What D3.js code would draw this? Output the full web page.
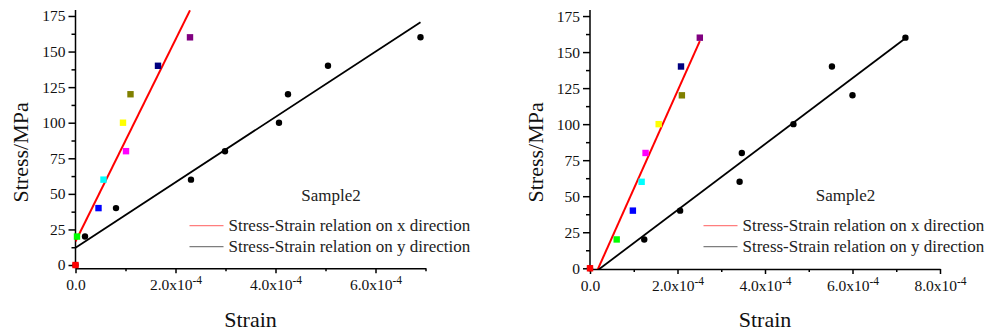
<!DOCTYPE html>
<html>
<head>
<meta charset="utf-8">
<script src="https://cdn.jsdelivr.net/npm/d3@7"></script>
<style>
  body { margin: 0; background: #fff; }
  svg { display: block; }
</style>
</head>
<body>
<svg id="chart" width="998" height="333"></svg>
<script>
// Stress levels (MPa) shared by every series
const stressLevels = [0, 20, 40, 60, 80, 100, 120, 140, 160];
// One colour per x-direction load step
const stepColors = ["#FF0000", "#00FF00", "#0000FF", "#00FFFF", "#FF00FF", "#FFFF00", "#808000", "#000080", "#800080"];

// Left panel strains
const leftStrainX = [0, 0.03e-4, 0.46e-4, 0.56e-4, 1.01e-4, 0.95e-4, 1.10e-4, 1.65e-4, 2.29e-4];
const leftStrainY = [0, 0.19e-4, 0.81e-4, 2.31e-4, 2.99e-4, 4.07e-4, 4.25e-4, 5.05e-4, 6.90e-4];
// Right panel strains
const rightStrainX = [0, 0.61e-4, 0.98e-4, 1.18e-4, 1.27e-4, 1.57e-4, 2.10e-4, 2.08e-4, 2.51e-4];
const rightStrainY = [0, 1.24e-4, 2.06e-4, 3.42e-4, 3.47e-4, 4.65e-4, 6.00e-4, 5.53e-4, 7.21e-4];

const stressTicks = [0, 25, 50, 75, 100, 125, 150, 175];
const leftStrainTicks = [0, 2e-4, 4e-4, 6e-4];
const rightStrainTicks = [0, 2e-4, 4e-4, 6e-4, 8e-4];
const sampleName = "Sample2";
const legendLabels = ["Stress-Strain relation on x direction", "Stress-Strain relation on y direction"];
const xTitle = "Strain";
const yTitle = "Stress/MPa";

const SERIF = '"Liberation Serif", "Times New Roman", serif';
const svg = d3.select("#chart").style("font-family", SERIF);

// ordinary least-squares line through (xs, ys)
function linearFit(xs, ys) {
  const n = xs.length;
  const mx = d3.mean(xs), my = d3.mean(ys);
  let sxy = 0, sxx = 0;
  for (let i = 0; i < n; i++) { sxy += (xs[i] - mx) * (ys[i] - my); sxx += (xs[i] - mx) ** 2; }
  const slope = sxy / sxx;
  return { slope, intercept: my - slope * mx, x0: d3.min(xs), x1: d3.max(xs) };
}

function strainLabel(sel) {
  sel.each(function(d) {
    const t = d3.select(this);
    t.text(null);
    if (d === 0) { t.text("0.0"); return; }
    const m = d / 1e-4;
    t.append("tspan").text(m.toFixed(1) + "x10");
    t.append("tspan").style("font-size", "11.5px").attr("dy", -6).text("-4");
  });
}

// restyle an axis group with the serif tick font
function styleAxis(a) {
  a.attr("font-family", SERIF).attr("font-size", 15.5);
  a.selectAll(".tick text")
    .style("font-family", SERIF).style("font-size", "15.5px").style("fill", "#111");
}

const panels = [
  { id: "L", sx: leftStrainX, sy: leftStrainY, xMax: 7e-4, xTicks: leftStrainTicks,
    xRange: [75.5, 425.5], yDom: [-2.3, 179.2], yRange: [268.3, 10],
    legendX: 189.5, titleX: 331 },
  { id: "R", sx: rightStrainX, sy: rightStrainY, xMax: 8e-4, xTicks: rightStrainTicks,
    xRange: [590, 940], yDom: [-0.5, 179.2], yRange: [269, 10],
    legendX: 703.5, titleX: 845.5 }
];

panels.forEach(p => {
  const x = d3.scaleLinear().domain([0, p.xMax]).range(p.xRange);
  const y = d3.scaleLinear().domain(p.yDom).range(p.yRange);
  const g = svg.append("g");
  const axisX = p.xRange[0], axisY = p.yRange[0];

  // clip region for fit lines
  g.append("clipPath").attr("id", "clip" + p.id)
    .append("rect").attr("x", p.xRange[0]).attr("y", p.yRange[1])
    .attr("width", p.xRange[1] - p.xRange[0]).attr("height", p.yRange[0] - p.yRange[1]);

  // y axis: minor then major ticks
  const minorY = d3.range(0, 180, 12.5).filter(v => v % 25 !== 0);
  g.append("g").attr("transform", `translate(${axisX},0)`)
    .call(d3.axisLeft(y).tickValues(minorY).tickSize(4).tickSizeOuter(0).tickFormat(""))
    .call(a => a.select(".domain").remove());
  const ya = g.append("g").attr("transform", `translate(${axisX},0)`)
    .call(d3.axisLeft(y).tickValues(stressTicks).tickSize(7).tickPadding(3).tickSizeOuter(0));
  ya.select(".domain").attr("d", `M0,${p.yRange[1]}V${p.yRange[0]}`);
  styleAxis(ya);

  // x axis
  const minorX = d3.range(1e-4, p.xMax + 1e-6, 2e-4);
  g.append("g").attr("transform", `translate(0,${axisY})`)
    .call(d3.axisBottom(x).tickValues(minorX).tickSize(3).tickSizeOuter(0).tickFormat(""))
    .call(a => a.select(".domain").remove());
  const xa = g.append("g").attr("transform", `translate(0,${axisY})`)
    .call(d3.axisBottom(x).tickValues(p.xTicks).tickSize(5).tickPadding(6).tickSizeOuter(0));
  xa.selectAll(".tick text").call(strainLabel);
  styleAxis(xa);

  g.selectAll(".domain, .tick line").attr("stroke", "#000").attr("stroke-width", 1.5);

  // fit lines
  const fits = [
    { f: linearFit(p.sx, stressLevels), color: "#FF0000", w: 2 },
    { f: linearFit(p.sy, stressLevels), color: "#000000", w: 1.8 }
  ];
  g.append("g").attr("clip-path", `url(#clip${p.id})`)
    .selectAll("line").data(fits).join("line")
    .attr("x1", d => x(d.f.x0)).attr("y1", d => y(d.f.intercept + d.f.slope * d.f.x0))
    .attr("x2", d => x(d.f.x1)).attr("y2", d => y(d.f.intercept + d.f.slope * d.f.x1))
    .attr("stroke", d => d.color).attr("stroke-width", d => d.w);

  // y-direction points (black circles)
  g.append("g").selectAll("circle").data(p.sy).join("circle")
    .attr("cx", d => x(d)).attr("cy", (d, i) => y(stressLevels[i])).attr("r", 3.2).attr("fill", "#000");

  // x-direction points (coloured squares)
  g.append("g").selectAll("rect").data(p.sx).join("rect")
    .attr("x", d => x(d) - 3.2).attr("y", (d, i) => y(stressLevels[i]) - 3.2)
    .attr("width", 6.4).attr("height", 6.4).attr("fill", (d, i) => stepColors[i]);

  // legend
  const lg = g.append("g");
  lg.append("text").attr("x", p.titleX).attr("y", 200.8).attr("text-anchor", "middle")
    .attr("font-size", 17).attr("fill", "#222").text(sampleName);
  const legendColors = ["#FF0000", "#000000"];
  legendLabels.forEach((lab, i) => {
    const ly = 225.7 + i * 21;
    lg.append("line").attr("x1", p.legendX).attr("x2", p.legendX + 34)
      .attr("y1", ly).attr("y2", ly).attr("stroke", legendColors[i])
      .attr("stroke-width", 1.3).attr("opacity", 0.5);
    lg.append("text").attr("x", p.legendX + 39).attr("y", ly + 5.7)
      .attr("font-size", 17).attr("fill", "#222").text(lab);
  });

  // axis titles
  g.append("text").attr("x", (p.xRange[0] + p.xRange[1]) / 2).attr("y", 326.5)
    .attr("text-anchor", "middle").attr("font-size", 22).attr("fill", "#111").text(xTitle);
  g.append("text").attr("transform", `translate(${axisX - 47.5},152.4) rotate(-90)`)
    .attr("text-anchor", "middle").attr("font-size", 22).attr("fill", "#111").text(yTitle);
});
</script>
</body>
</html>
